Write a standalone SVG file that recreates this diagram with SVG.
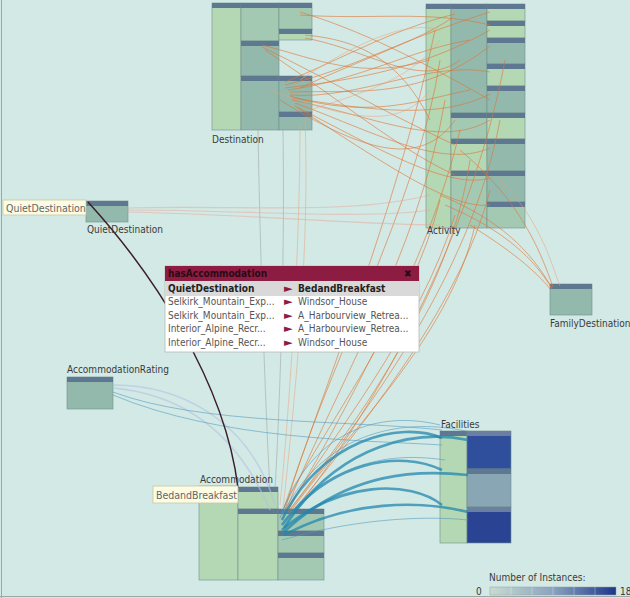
<svg xmlns="http://www.w3.org/2000/svg" width="630" height="598" viewBox="0 0 630 598">
<defs>
<style>
.lt{fill:#b4d7b4;stroke:#6f8f8c;stroke-width:0.6}
.md{fill:#a4c9b3;stroke:#6f8f8c;stroke-width:0.6}
.dk{fill:#93b9ad;stroke:#6f8f8c;stroke-width:0.6}
.hd{fill:#5e7892}
.lbl{font-family:"DejaVu Sans Condensed","DejaVu Sans",sans-serif;font-size:10px;fill:#3a3a3a}
.tip{fill:#fcfbe4;stroke:#c9c7a4;stroke-width:0.8}
.tiptx{font-family:"DejaVu Sans Condensed","DejaVu Sans",sans-serif;font-size:10.5px;fill:#666}
.or{fill:none;stroke:#de7436;stroke-width:1;opacity:0.6}
.orl{fill:none;stroke:#e9a27a;stroke-width:1;opacity:0.5}
.gr{fill:none;stroke:#8a8a8a;stroke-width:0.8;opacity:0.5}
.pk{fill:none;stroke:#e8a090;stroke-width:1.2;opacity:0.45}
.tl{fill:none;stroke:#2287ad;stroke-width:2.6;opacity:0.75}
.bl{fill:none;stroke:#4b96bd;stroke-width:1;opacity:0.55}
.lv{fill:none;stroke:#b4bfe2;stroke-width:1.5;opacity:0.6}
.pt{font-family:"DejaVu Sans Condensed","DejaVu Sans",sans-serif;font-size:10px;fill:#555}
.ptb{font-family:"DejaVu Sans Condensed","DejaVu Sans",sans-serif;font-size:10px;font-weight:bold;fill:#222}
.ar{font-family:"DejaVu Sans",sans-serif;font-size:11px;fill:#8d1c42}
</style>
<linearGradient id="leg" x1="0" x2="1" y1="0" y2="0">
<stop offset="0" stop-color="#c9dccf"/>
<stop offset="0.5" stop-color="#8aa3bf"/>
<stop offset="1" stop-color="#1d3688"/>
</linearGradient>
</defs>
<rect x="0" y="0" width="630" height="598" fill="#d2e9e5"/>
<line x1="1.5" y1="0" x2="1.5" y2="598" stroke="#9aa8a6" stroke-width="1"/>
<line x1="0" y1="596.5" x2="630" y2="596.5" stroke="#9aa8a6" stroke-width="1"/>

<g id="node-destination">
<rect class="lt" x="212" y="3" width="29" height="127"/><rect class="hd" x="212" y="3" width="29" height="5"/>
<rect class="md" x="241" y="3" width="38" height="38"/><rect class="hd" x="241" y="3" width="38" height="5"/>
<rect class="dk" x="241" y="41" width="38" height="35"/><rect class="hd" x="241" y="41" width="38" height="5"/>
<rect class="dk" x="241" y="76" width="38" height="54"/><rect class="hd" x="241" y="76" width="38" height="5"/>
<rect class="md" x="279" y="3" width="33" height="27"/><rect class="hd" x="279" y="3" width="33" height="5"/>
<rect class="lt" x="279" y="29" width="33" height="11"/><rect class="hd" x="279" y="29" width="33" height="5"/>
<rect class="dk" x="279" y="76" width="33" height="36"/><rect class="hd" x="279" y="76" width="33" height="5"/>
<rect class="dk" x="279" y="112" width="33" height="18"/><rect class="hd" x="279" y="112" width="33" height="5"/>
</g>

<g id="node-activity">
<rect class="lt" x="426" y="4" width="25" height="224"/><rect class="hd" x="426" y="4" width="25" height="5"/>
<rect class="dk" x="451" y="4" width="36" height="109"/><rect class="hd" x="451" y="4" width="36" height="5"/>
<rect class="md" x="451" y="113" width="36" height="26"/><rect class="hd" x="451" y="113" width="36" height="5"/>
<rect class="lt" x="451" y="139" width="36" height="32"/><rect class="hd" x="451" y="139" width="36" height="5"/>
<rect class="md" x="451" y="171" width="36" height="57"/><rect class="hd" x="451" y="171" width="36" height="5"/>
<rect class="lt" x="487" y="4" width="38" height="17"/><rect class="hd" x="487" y="4" width="38" height="5"/>
<rect class="lt" x="487" y="21" width="38" height="17"/><rect class="hd" x="487" y="21" width="38" height="5"/>
<rect class="dk" x="487" y="38" width="38" height="26"/><rect class="hd" x="487" y="38" width="38" height="5"/>
<rect class="lt" x="487" y="64" width="38" height="22"/><rect class="hd" x="487" y="64" width="38" height="5"/>
<rect class="dk" x="487" y="86" width="38" height="27"/><rect class="hd" x="487" y="86" width="38" height="5"/>
<rect class="lt" x="487" y="113" width="38" height="26"/><rect class="hd" x="487" y="113" width="38" height="5"/>
<rect class="dk" x="487" y="139" width="38" height="32"/><rect class="hd" x="487" y="139" width="38" height="5"/>
<rect class="dk" x="487" y="171" width="38" height="31"/><rect class="hd" x="487" y="171" width="38" height="5"/>
<rect class="md" x="487" y="202" width="38" height="26"/><rect class="hd" x="487" y="202" width="38" height="5"/>
</g>

<g id="node-quietdestination">
<rect class="dk" x="86" y="201" width="42" height="21"/><rect class="hd" x="86" y="201" width="42" height="5"/>
</g>

<g id="node-familydestination">
<rect class="dk" x="550" y="284" width="42" height="31"/><rect class="hd" x="550" y="284" width="42" height="5"/>
</g>

<g id="node-accommodationrating">
<rect class="dk" x="67" y="377" width="46" height="32"/><rect class="hd" x="67" y="377" width="46" height="5"/>
</g>

<g id="node-accommodation">
<rect class="lt" x="199" y="486" width="39" height="94"/><rect class="hd" x="199" y="486" width="39" height="5"/>
<rect class="lt" x="238" y="487" width="40" height="22"/><rect class="hd" x="238" y="487" width="40" height="5"/>
<rect class="lt" x="238" y="509" width="40" height="71"/><rect class="hd" x="238" y="509" width="40" height="5"/>
<rect class="md" x="278" y="509" width="46" height="22"/><rect class="hd" x="278" y="509" width="46" height="5"/>
<rect class="md" x="278" y="531" width="46" height="22"/><rect class="hd" x="278" y="531" width="46" height="5"/>
<rect class="md" x="278" y="553" width="46" height="27"/><rect class="hd" x="278" y="553" width="46" height="5"/>
</g>

<g id="node-facilities">
<rect class="lt" x="440" y="431" width="27" height="112"/><rect class="hd" x="440" y="431" width="27" height="5"/>
<rect x="467" y="431" width="44" height="38" fill="#2f4e9c" stroke="#6f8f8c" stroke-width="0.6"/><rect x="467" y="431" width="44" height="5" fill="#6a7fa2"/>
<rect x="467" y="469" width="44" height="38" fill="#89a6b4" stroke="#6f8f8c" stroke-width="0.6"/><rect class="hd" x="467" y="469" width="44" height="5"/>
<rect x="467" y="507" width="44" height="36" fill="#2a4493" stroke="#6f8f8c" stroke-width="0.6"/><rect x="467" y="507" width="44" height="5" fill="#6a7fa2"/>
</g>

<g id="connectors">
<path class="or" d="M285,82 C340,60 390,30 455,14"/>
<path class="or" d="M285,85 C350,70 400,40 490,12"/>
<path class="or" d="M285,88 C350,80 420,70 490,30"/>
<path class="or" d="M290,92 C360,90 420,100 490,46"/>
<path class="or" d="M290,95 C360,100 430,60 490,72"/>
<path class="or" d="M292,98 C370,110 440,120 490,94"/>
<path class="or" d="M292,100 C370,115 440,150 490,120"/>
<path class="or" d="M295,103 C370,130 440,170 490,148"/>
<path class="or" d="M295,106 C380,150 450,190 490,178"/>
<path class="or" d="M298,108 C380,160 450,210 490,205"/>
<path class="or" d="M300,88 C360,60 420,40 452,18"/>
<path class="or" d="M280,100 C360,150 420,170 455,120"/>
<path class="or" d="M262,45 C320,60 360,80 430,60"/>
<path class="or" d="M262,47 C330,80 380,110 455,145"/>
<path class="or" d="M265,50 C340,100 400,150 455,175"/>
<path class="or" d="M300,12 C360,30 420,60 490,100"/>
<path class="or" d="M300,15 C370,20 430,10 490,25"/>
<path class="or" d="M305,35 C360,40 400,60 430,120"/>
<path class="or" d="M305,38 C370,50 420,90 460,60"/>
<path class="or" d="M288,90 C360,80 410,50 470,40"/>
<path class="or" d="M290,96 C370,120 420,100 470,90"/>
<path class="orl" d="M300,80 C360,40 410,20 440,30"/>
<path class="orl" d="M310,110 C370,90 410,80 440,40"/>
<path class="orl" d="M270,90 C350,120 400,130 430,90"/>
<path class="or" d="M435,30 C400,200 320,400 284,508"/>
<path class="or" d="M440,60 C420,200 320,380 285,510"/>
<path class="or" d="M445,100 C420,250 330,400 286,510"/>
<path class="or" d="M460,130 C430,260 340,420 287,512"/>
<path class="or" d="M470,160 C450,300 350,430 288,512"/>
<path class="or" d="M490,190 C460,310 350,440 290,515"/>
<path class="or" d="M440,200 C410,320 320,430 283,510"/>
<path class="or" d="M455,215 C420,330 330,440 285,512"/>
<path class="or" d="M475,225 C450,340 340,440 289,514"/>
<path class="or" d="M500,120 C470,280 360,420 290,510"/>
<path class="or" d="M505,60 C470,250 360,430 292,514"/>
<path class="gr" d="M258,130 C260,250 265,400 270,490"/>
<path class="gr" d="M283,130 C285,260 280,400 275,490"/>
<path class="orl" d="M300,125 C300,250 290,400 280,505"/>
<path class="orl" d="M305,118 C310,250 295,400 283,508"/>
<path class="or" d="M440,195 C500,220 530,250 552,288"/>
<path class="or" d="M445,205 C505,230 535,260 552,289"/>
<path class="or" d="M460,150 C520,200 540,250 553,287"/>
<path class="or" d="M470,225 C510,250 535,270 551,290"/>
<path class="orl" d="M500,180 C540,220 550,260 560,286"/>
<path class="pk" d="M127,208 C250,205 350,215 430,195"/>
<path class="pk" d="M127,210 C250,210 360,220 430,210"/>
<path class="pk" d="M127,212 C260,215 370,225 440,225"/>
<path class="lv" d="M113,385 C180,385 250,420 275,505"/>
<path class="lv" d="M113,388 C190,395 240,440 270,510"/>
<path class="bl" d="M113,392 C200,425 350,420 442,430" opacity="0.3"/>
<path class="bl" d="M113,395 C220,440 360,440 442,445" opacity="0.25"/>
<path class="tl" d="M282,520 C320,440 400,420 442,438"/>
<path class="tl" d="M282,525 C330,460 400,450 442,470"/>
<path class="tl" d="M282,530 C340,480 410,480 442,505"/>
<path class="tl" d="M284,528 C340,440 420,430 468,440" stroke-width="2"/>
<path class="tl" d="M284,532 C350,470 420,470 468,475" stroke-width="2"/>
<path class="tl" d="M284,535 C350,500 420,500 468,512" stroke-width="2"/>
<path class="bl" d="M282,515 C330,420 420,420 470,432"/>
<path class="bl" d="M282,540 C350,520 420,515 468,520"/>
<path class="bl" d="M280,518 C310,430 380,410 440,425"/>
<path class="bl" d="M283,522 C340,450 410,455 445,460"/>
<path d="M88,202 C150,270 225,380 238,488" fill="none" stroke="#3a1f2a" stroke-width="1.5"/>
</g>

<g id="labels">
<text class="lbl" x="212" y="143">Destination</text>
<text class="lbl" x="427" y="234">Activity</text>
<text class="lbl" x="87" y="233">QuietDestination</text>
<text class="lbl" x="550" y="327">FamilyDestination</text>
<text class="lbl" x="67" y="373">AccommodationRating</text>
<text class="lbl" x="200" y="483">Accommodation</text>
<text class="lbl" x="441" y="428">Facilities</text>
</g>

<g id="tooltip-quietdestination">
<rect class="tip" x="3" y="200" width="83" height="15"/>
<text class="tiptx" x="6" y="211.5">QuietDestination</text>
</g>

<g id="tooltip-bedandbreakfast">
<rect class="tip" x="153" y="486" width="85" height="17"/>
<text class="tiptx" x="156" y="498.5">BedandBreakfast</text>
</g>

<g id="popup-hasaccommodation">
<rect x="165" y="266" width="254" height="86" fill="#ffffff" stroke="#b9b9b9" stroke-width="0.8"/>
<rect x="165" y="266" width="254" height="15" fill="#8d1c42"/>
<text class="ptb" x="168" y="277" style="fill:#2a0a14">hasAccommodation</text>
<text class="ptb" x="404" y="277" style="fill:#2a0a14">✖</text>
<rect x="165" y="281" width="254" height="15" fill="#d9d9d9"/>
<text class="ptb" x="168" y="292">QuietDestination</text>
<text class="ar" x="284" y="292">►</text>
<text class="ptb" x="298" y="292">BedandBreakfast</text>
<text class="pt" x="168" y="305">Selkirk_Mountain_Exp...</text>
<text class="ar" x="284" y="305">►</text>
<text class="pt" x="298" y="305">Windsor_House</text>
<text class="pt" x="168" y="318.5">Selkirk_Mountain_Exp...</text>
<text class="ar" x="284" y="318.5">►</text>
<text class="pt" x="298" y="318.5">A_Harbourview_Retrea...</text>
<text class="pt" x="168" y="332">Interior_Alpine_Recr...</text>
<text class="ar" x="284" y="332">►</text>
<text class="pt" x="298" y="332">A_Harbourview_Retrea...</text>
<text class="pt" x="168" y="345.5">Interior_Alpine_Recr...</text>
<text class="ar" x="284" y="345.5">►</text>
<text class="pt" x="298" y="345.5">Windsor_House</text>
</g>

<g id="legend">
<text class="lbl" x="489" y="581">Number of Instances:</text>
<text class="lbl" x="476" y="595">0</text>
<rect x="490" y="587" width="126" height="8" fill="url(#leg)" stroke="#8fa0a8" stroke-width="0.5"/>
<g stroke="#ffffff" stroke-width="0.6" opacity="0.5">
<line x1="511" y1="587" x2="511" y2="595"/><line x1="532" y1="587" x2="532" y2="595"/><line x1="553" y1="587" x2="553" y2="595"/><line x1="574" y1="587" x2="574" y2="595"/><line x1="595" y1="587" x2="595" y2="595"/>
</g>
<text class="lbl" x="620" y="595">18</text>
</g>
</svg>
